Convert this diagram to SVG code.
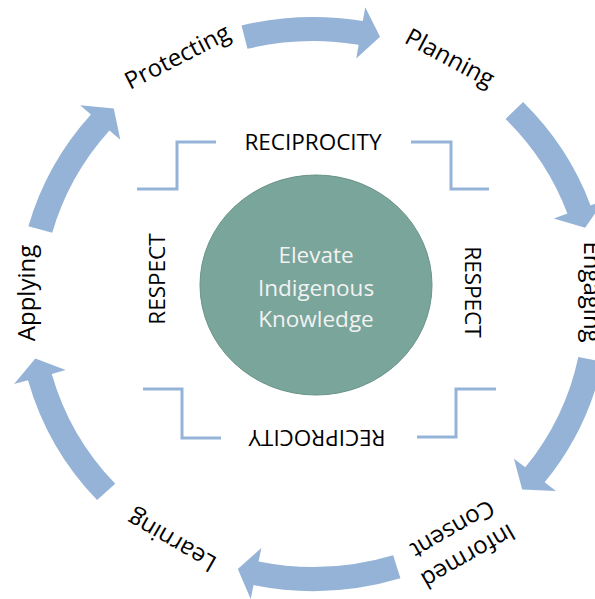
<svg xmlns="http://www.w3.org/2000/svg" width="595" height="599" viewBox="0 0 595 599">
<style>
.arr{fill:#95B3D7;stroke:none}
.brk{fill:none;stroke:#95B3D7;stroke-width:3}
.lbl{font-family:"Open Sans","Liberation Sans",sans-serif;font-size:24px;fill:#000;text-anchor:middle}
.in{font-family:"Open Sans","Liberation Sans",sans-serif;font-size:22.5px;fill:#000;text-anchor:middle}
.ctr{font-family:"Open Sans","Liberation Sans",sans-serif;font-size:22.5px;fill:#F2F2F2;text-anchor:middle}
</style>
<rect width="595" height="599" fill="#FFFFFF"/>
<g id="connectors" transform="translate(313,304) scale(1.03,1)">
<path class="arr" d="M -69.4 -278.5 A 287 287 0 0 1 48.4 -282.9 L 50.7 -296.7 L 65.1 -267.2 L 42.0 -245.4 L 44.3 -259.2 A 263 263 0 0 0 -63.6 -255.2 Z"/>
<path class="arr" d="M 204.0 -201.9 A 287 287 0 0 1 269.5 -98.6 L 282.7 -103.5 L 264.2 -76.3 L 233.8 -85.6 L 247.0 -90.4 A 263 263 0 0 0 186.9 -185.0 Z"/>
<path class="arr" d="M 281.1 57.7 A 287 287 0 0 1 224.9 178.3 L 235.9 187.0 L 203.1 185.4 L 195.1 154.7 L 206.1 163.3 A 263 263 0 0 0 257.6 52.9 Z"/>
<path class="arr" d="M 84.9 274.2 A 287 287 0 0 1 -57.7 281.1 L -60.5 294.9 L -73.0 265.1 L -50.1 243.9 L -52.9 257.6 A 263 263 0 0 0 77.8 251.2 Z"/>
<path class="arr" d="M -209.6 196.1 A 287 287 0 0 1 -276.7 76.2 L -290.2 79.9 L -269.6 54.4 L -240.1 66.1 L -253.6 69.9 A 263 263 0 0 0 -192.0 179.7 Z"/>
<path class="arr" d="M -276.3 -77.7 A 287 287 0 0 1 -215.6 -189.4 L -226.1 -198.7 L -193.4 -195.5 L -187.1 -164.3 L -197.6 -173.6 A 263 263 0 0 0 -253.2 -71.2 Z"/>
</g>
<g id="brackets">
<polyline class="brk" points="137,189 177,189 177,142 216,142"/>
<polyline class="brk" points="411,142 451,142 451,189 489,189"/>
<polyline class="brk" points="143,389 182,389 182,438 221,438"/>
<polyline class="brk" points="417,437 456,437 456,389 496,389"/>
</g>
<g id="center">
<ellipse cx="316" cy="285" rx="116" ry="110" fill="#7AA59A" stroke="#6A9388" stroke-width="1"/>
<text class="ctr" x="316" y="263">Elevate</text>
<text class="ctr" x="316" y="296">Indigenous</text>
<text class="ctr" x="316" y="327">Knowledge</text>
</g>
<g id="reciprocity-top"><text class="in" x="313" y="150">RECIPROCITY</text></g>
<g id="reciprocity-bottom"><text class="in" transform="translate(317,430) rotate(180)">RECIPROCITY</text></g>
<g id="respect-left"><text class="in" transform="translate(165,279) rotate(-90)">RESPECT</text></g>
<g id="respect-right"><text class="in" transform="translate(465,292) rotate(90)">RESPECT</text></g>
<g id="protecting"><text class="lbl" transform="translate(181,64) rotate(-27)">Protecting</text></g>
<g id="planning"><text class="lbl" transform="translate(446,65) rotate(28)">Planning</text></g>
<g id="engaging"><text class="lbl" transform="translate(584,292) rotate(90)">Engaging</text></g>
<g id="informed-consent"><text class="lbl" transform="translate(464,549) rotate(150)"><tspan x="0" y="0">Informed</tspan><tspan x="0" y="31">Consent</tspan></text></g>
<g id="learning"><text class="lbl" transform="translate(176,534) rotate(210)">Learning</text></g>
<g id="applying"><text class="lbl" transform="translate(35,293) rotate(-90)">Applying</text></g>
</svg>
